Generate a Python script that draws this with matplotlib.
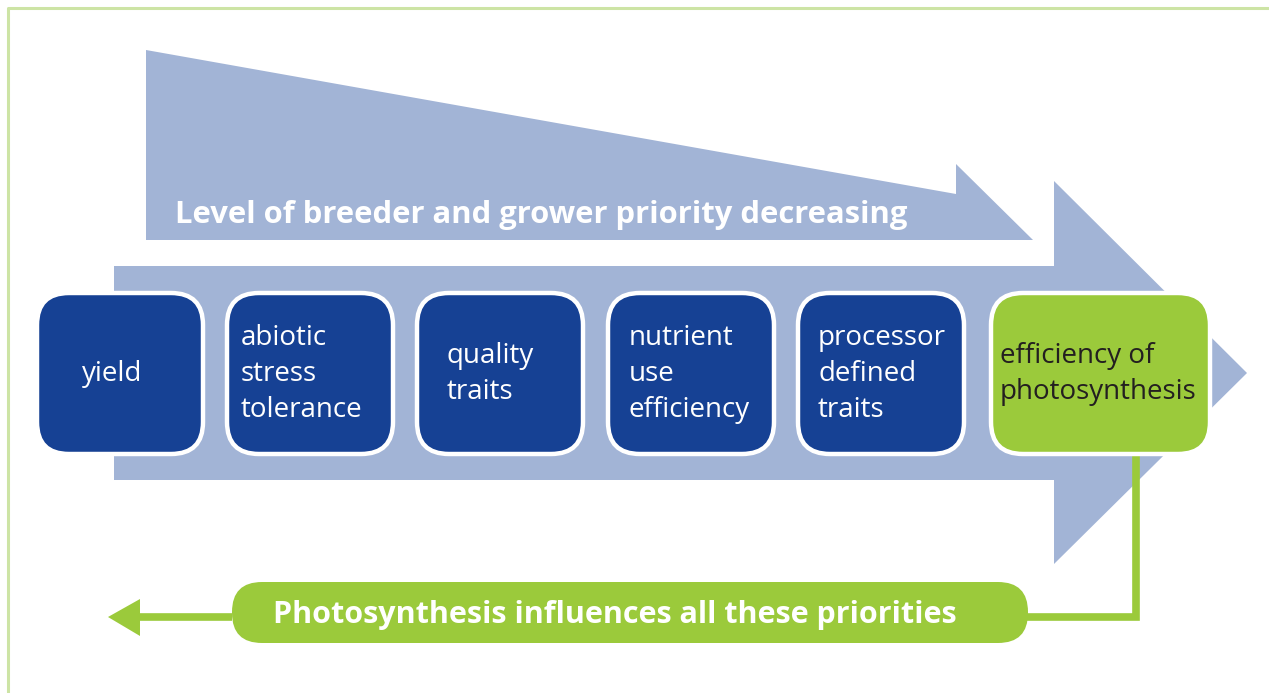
import matplotlib.pyplot as plt
from matplotlib.patches import Polygon, FancyBboxPatch

# box texts, left to right
box_labels = ["yield", "abiotic\nstress\ntolerance", "quality\ntraits",
              "nutrient\nuse\nefficiency", "processor\ndefined\ntraits",
              "efficiency of\nphotosynthesis"]
box_is_photo = [False, False, False, False, False, True]
top_label = "Level of breeder and grower priority decreasing"
bottom_label = "Photosynthesis influences all these priorities"

LIGHT = "#a2b4d6"
DARK = "#164194"
GREEN = "#9bca3b"
BORDER = "#cde4a5"
FONT = "Open Sans"

fig = plt.figure(figsize=(12.69, 6.93), dpi=100)
ax = fig.add_axes([0, 0, 1, 1])
ax.set_xlim(0, 1269)
ax.set_ylim(693, 0)
ax.axis("off")

# frame
ax.plot([8, 8, 1275], [700, 7.5, 7.5], color=BORDER, lw=2.2, solid_capstyle="butt")

# upper wedge arrow
ax.add_patch(Polygon([(146, 50), (956, 194), (956, 164), (1033, 240), (146, 240)],
                     closed=True, fc=LIGHT, ec="none"))
ax.text(175, 215, top_label, color="white", fontsize=22.3, fontweight="bold",
        family=FONT, va="center", ha="left")

# main arrow
ax.add_patch(Polygon([(114, 266), (1054, 266), (1054, 181), (1247, 373),
                      (1054, 564), (1054, 480), (114, 480)],
                     closed=True, fc=LIGHT, ec="none"))

# boxes
lefts = [37, 227, 417, 608, 798, 991]
text_pad = [45, 14, 30, 21, 20, 9]
for i, (lab, photo) in enumerate(zip(box_labels, box_is_photo)):
    w = 219 if photo else 166
    fc = GREEN if photo else DARK
    ax.add_patch(FancyBboxPatch((lefts[i], 293), w, 161,
                                boxstyle="round,pad=0,rounding_size=32",
                                fc=fc, ec="white", lw=3.2, zorder=3))
    ax.text(lefts[i] + text_pad[i], 374, lab, color="#231f20" if photo else "white",
            fontsize=20, family=FONT, va="center", ha="left",
            linespacing=1.38, zorder=4)

# feedback connector
ax.plot([1136, 1136, 1000], [456, 617, 617], color=GREEN, lw=5.5,
        solid_joinstyle="miter", zorder=2)
ax.plot([232, 138], [617, 617], color=GREEN, lw=5.5, solid_capstyle="butt")
ax.add_patch(Polygon([(140, 599), (108, 617), (140, 636)], closed=True, fc=GREEN, ec="none"))

ax.add_patch(FancyBboxPatch((232, 582), 796, 61,
                            boxstyle="round,pad=0,rounding_size=30",
                            fc=GREEN, ec="none", zorder=3))
ax.text(273, 615, bottom_label, color="white", fontsize=22.0, fontweight="bold",
        family=FONT, va="center", ha="left", zorder=4)

fig.savefig("out.png", dpi=100)
